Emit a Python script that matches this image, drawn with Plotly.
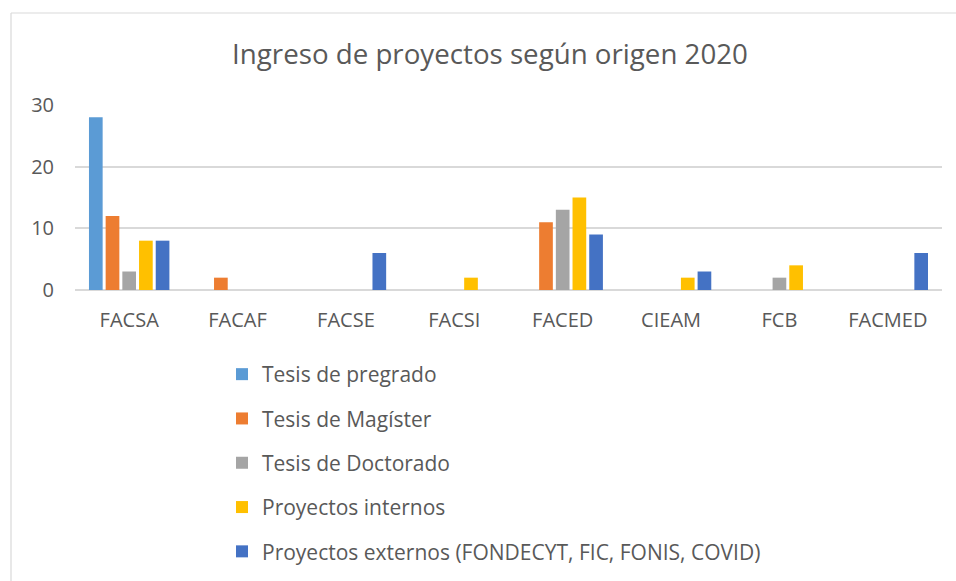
import plotly.graph_objects as go

categories = ["FACSA", "FACAF", "FACSE", "FACSI", "FACED", "CIEAM", "FCB", "FACMED"]
series_names = [
    "Tesis de pregrado",
    "Tesis de Magíster",
    "Tesis de Doctorado",
    "Proyectos internos",
    "Proyectos externos (FONDECYT, FIC, FONIS, COVID)",
]
tesis_pregrado = [28, 0, 0, 0, 0, 0, 0, 0]
tesis_magister = [12, 2, 0, 0, 11, 0, 0, 0]
tesis_doctorado = [3, 0, 0, 0, 13, 0, 2, 0]
proyectos_internos = [8, 0, 0, 2, 15, 2, 4, 0]
proyectos_externos = [8, 0, 6, 0, 9, 3, 0, 6]
colors = ["#5B9BD5", "#ED7D31", "#A5A5A5", "#FFC000", "#4472C4"]
y_ticks = [0, 10, 20, 30]

series_values = [tesis_pregrado, tesis_magister, tesis_doctorado, proyectos_internos, proyectos_externos]

W, H = 956, 581
ml, mr, mt, mb = 75, 14, 105, 291
pw, ph = W - ml - mr, H - mt - mb

fig = go.Figure()
for i, (name, vals) in enumerate(zip(series_names, series_values)):
    fig.add_trace(go.Bar(
        x=categories, y=vals, name=name,
        marker=dict(color=colors[i], line=dict(width=0)),
        legendgroup=f"g{i}",
    ))

font_family = "Open Sans, Liberation Sans, sans-serif"
border = dict(color="#D9D9D9", width=1.2)
fig.update_layout(
    width=W, height=H,
    margin=dict(l=ml, r=mr, t=mt, b=mb, pad=0, autoexpand=False),
    paper_bgcolor="white", plot_bgcolor="white",
    barmode="group", bargap=0.23, bargroupgap=0.18,
    font=dict(family=font_family, color="#595959"),
    title=dict(text="Ingreso de proyectos según origen 2020",
               x=490 / W, xanchor="center", xref="container",
               y=1 - 54 / H, yanchor="middle", yref="container",
               font=dict(size=27.7, color="#595959", family=font_family)),
    xaxis=dict(showgrid=False, showline=False, ticks="", tickfont=dict(size=20, color="#595959"),
               ticklabelstandoff=16, automargin=False),
    yaxis=dict(range=[0, 30], tickvals=y_ticks, showgrid=True, gridcolor="#D9D9D9", gridwidth=1.5,
               zeroline=True, zerolinecolor="#D9D9D9", zerolinewidth=1.5,
               ticks="", tickfont=dict(size=20, color="#595959"), ticklabelstandoff=20,
               automargin=False),
    showlegend=True,
    legend=dict(orientation="v", xref="container", yref="container",
                x=222 / W, xanchor="left",
                y=1 - 354 / H, yanchor="top",
                font=dict(size=21, color="#595959", family=font_family),
                tracegroupgap=14, itemwidth=30, bgcolor="rgba(0,0,0,0)"),
    shapes=[
        dict(type="line", xref="paper", yref="paper",
             x0=(11 - ml) / pw, x1=(11 - ml) / pw,
             y0=-(H + 20 - 290) / ph, y1=(290 - 13) / ph, line=border, layer="below"),
        dict(type="line", xref="paper", yref="paper",
             x0=(11 - ml) / pw, x1=(W + 20 - ml) / pw,
             y0=(290 - 13) / ph, y1=(290 - 13) / ph, line=border, layer="below"),
    ],
)

fig.write_html("out.html", config={"displayModeBar": False},
               post_script="document.body.style.margin='0';document.body.style.overflow='hidden';")
